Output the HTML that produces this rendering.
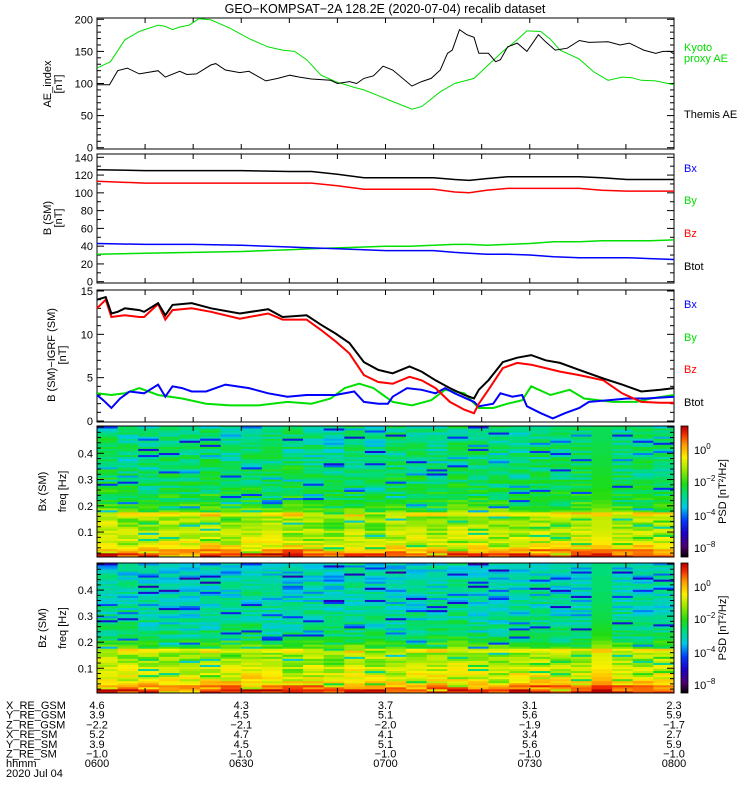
<!DOCTYPE html>
<html><head><meta charset="utf-8">
<style>
html,body{margin:0;padding:0;background:#fff;}
svg{display:block;font-family:"Liberation Sans",sans-serif;}
text{font-size:11px;fill:#000;}
</style></head>
<body>
<svg id="chart" width="750" height="800" viewBox="0 0 750 800" xmlns="http://www.w3.org/2000/svg">
<defs>
<linearGradient id="cbar" x1="0" y1="1" x2="0" y2="0">
<stop offset="0" stop-color="#000"/>
<stop offset="0.08" stop-color="#500070"/>
<stop offset="0.18" stop-color="#1e00c8"/>
<stop offset="0.28" stop-color="#003cff"/>
<stop offset="0.38" stop-color="#00c8e6"/>
<stop offset="0.48" stop-color="#00dc78"/>
<stop offset="0.56" stop-color="#1edc14"/>
<stop offset="0.68" stop-color="#aaeb00"/>
<stop offset="0.76" stop-color="#faf000"/>
<stop offset="0.86" stop-color="#ff9600"/>
<stop offset="0.94" stop-color="#f02800"/>
<stop offset="1" stop-color="#b40000"/>
</linearGradient>
</defs>
<text x="385" y="13" text-anchor="middle" style="font-size:12.5px">GEO−KOMPSAT−2A 128.2E (2020-07-04) recalib dataset</text>
<g id="layer"></g>
</svg>
<script>
// ---------- data ----------
const aeTimes = [0,2.6,4.3,6.3,8.8,12.7,14.2,17.2,18.7,20.7,23.7,24.7,26.7,29.7,31.6,35.1,37.6,40.1,42.1,44.6,48.6,50,52.5,54,55.5,57.5,59.5,61.5,65.5,67.5,69.5,71.4,72.9,73.9,75.4,76.9,78.4,79.4,81.4,82.9,83.9,85.4,87.4,89.4,91.8,93.3,95.3,97.8,100.3,102.3,106.3,108.8,110.7,113.7,116.2,117.7,119.2,120];
const themisAE = [98,98,120,124,115,120,110,119,114,115,129,131,121,117,119,104,108,113,110,107,105,100,103,100,108,112,127,121,96,103,108,121,147,152,184,176,172,147,147,134,137,157,163,150,176,165,152,155,167,164,165,160,163,152,147,150,150,146];
const kyotoTimes = [0,2.8,5.8,8.8,12.7,14.2,15.7,17.2,19.2,21.2,23.7,27.7,31.6,35.6,38.6,41.1,43.6,46.6,49.6,53.5,55.5,58.5,61.5,65.5,67.5,71.4,74.4,78.4,81.4,84.4,87.4,89.4,92.3,94.3,96.3,100.3,103.3,106.3,109.2,111.2,113.2,116.2,118.7,120];
const kyotoAE = [124,134,168,181,191,189,184,188,191,201,199,186,170,157,152,150,137,113,103,94,90,81,72,60,64,87,100,108,129,150,168,182,181,169,152,138,118,105,110,109,105,104,100,98];

const bTimes = [0,10,20,30,40,44.6,50,55.5,60,65,70,74.4,77.4,81,85.4,90,95,100.3,105,110.2,115,120];
const bTot = [126,125,125,125,124,124,121,117,117,117,117,115,114,116,118,118,118,118,117,115,115,115];
const bZ   = [113,111,111,111,111,111,108,104,104,104,104,101,100,103,105,105,105,105,103,102,102,102];
const bX   = [43,42,42,41,39,38,37,36,35,35,35,33,32,31,31,30,28,27,27,27,26,25];
const bY   = [31,32,33,34,36,37,38,39,40,40,41,42,42,41,42,43,45,45,46,46,46,47];

const dTimes = [0,1.8,3,4.3,5.8,8.8,9.8,12.7,14.2,15.7,19.7,23.7,29.7,35.6,38.6,43.6,46.6,49.6,52.5,55.5,58.5,61.5,65,67.5,70.4,73.4,76.4,78.4,79.4,81.4,84.4,87.4,90.3,93.3,96.3,100.3,105.3,109.2,113.2,117.2,120];
const dTot = [14.0,14.3,12.4,12.6,13.0,12.8,12.6,13.6,12.2,13.4,13.6,13.0,12.4,12.9,12.0,12.2,11.1,10.1,9.0,6.8,5.9,5.5,6.3,5.7,4.7,3.8,3.0,2.6,3.6,4.7,6.8,7.3,7.6,7.0,6.7,5.9,4.9,4.2,3.4,3.6,3.8];
const dZ   = [13.0,14.0,12.0,12.1,12.2,12.0,12.0,13.5,11.7,12.8,13.0,12.6,11.8,12.4,11.7,11.7,10.5,9.2,7.8,5.3,4.5,4.3,5.1,4.7,3.8,2.2,1.3,0.9,2.0,3.6,6.1,6.7,6.5,6.1,5.7,5.3,4.7,3.2,2.2,2.1,2.1];
const dXTimes = [0,1.3,3,4.8,6.8,9.8,12.7,14.2,15.7,17.7,19.7,22.7,26.7,31.6,35.6,39.6,43.6,47.6,49.6,53.5,55.5,58.5,60.5,61.5,64.5,67.5,70.4,72.4,74.4,78.4,79.4,82.4,83.9,86.4,88.4,89.4,92.3,94.8,97.3,100.3,102.3,106.3,110.2,114.2,120];
const dX   = [3.0,2.4,1.5,2.6,3.4,3.2,4.2,2.8,4.0,3.8,3.4,3.4,4.2,3.8,3.2,2.8,3.0,3.0,3.0,3.4,2.2,2.0,2.0,2.8,3.8,3.6,3.2,3.8,3.2,2.2,1.7,2.0,3.2,2.8,3.0,1.7,0.9,0.3,0.9,1.5,2.2,2.4,2.6,2.6,2.8];
const dYTimes = [0,3,5.8,8.8,12.7,17.7,22.7,27.7,33.6,39.6,44.6,48.6,51.5,54.5,57.5,61.5,65.5,69.5,72.4,76.4,79.4,82.4,85.4,88.4,90.3,94.3,98.3,101.3,107.3,112.2,115.2,120];
const dY   = [3.2,3.0,3.2,3.8,3.0,2.6,2.0,1.8,1.8,2.2,2.0,2.6,3.8,4.3,3.8,2.2,1.8,2.4,3.6,3.2,1.5,1.5,2.0,2.4,4.0,3.0,3.6,2.6,2.2,2.2,2.6,3.0];

// spectrogram profiles (bottom -> top, 32 freq groups), column offsets (28 columns), texture
const bxProfile = [0.92,0.84,0.76,0.72,0.70,0.68,0.67,0.66,0.66,0.65,0.75,0.60,0.56,0.54,0.52,0.52,0.51,0.50,0.50,0.50,0.49,0.49,0.48,0.48,0.48,0.47,0.47,0.47,0.46,0.46,0.46,0.46];
const bzProfile = [0.93,0.86,0.78,0.74,0.72,0.70,0.68,0.67,0.66,0.65,0.73,0.58,0.54,0.50,0.48,0.47,0.46,0.45,0.44,0.44,0.43,0.43,0.42,0.42,0.42,0.41,0.41,0.41,0.41,0.40,0.40,0.40];
const bxCols = [0.02,0,-0.01,0.01,0,0.02,-0.01,0,0.01,0.02,-0.01,-0.02,0,-0.02,0.01,0,-0.01,0.02,0.01,0,-0.01,0.01,0,0.02,-0.01,0,0.01,0];
const bzCols = [0.01,0.02,0,-0.01,-0.02,0,0.01,0.02,0,-0.01,0.01,0,0.02,0.01,-0.01,0,0.02,0.03,0,-0.01,0.01,0.02,0,-0.01,0.02,0.01,0,0.01];
const texture = [0.03,-0.05,0.06,-0.02,0.0,-0.22,0.04,-0.07,0.02,0.05,-0.03,0.07,-0.06,0.01,-0.1,0.04,-0.02,0.06,-0.04,0.0,0.03,-0.25,0.05,-0.01,0.02,-0.06,0.07,-0.03,0.04,-0.08,0.01,0.06,-0.05,0.02,-0.15,0.03,0.0,-0.04,0.05,-0.02,0.06];

const tickTimes = ["0600","0630","0700","0730","0800"];
const xGSM = ["4.6","4.3","3.7","3.1","2.3"];
const yGSM = ["3.9","4.5","5.1","5.6","5.9"];
const zGSM = ["−2.2","−2.1","−2.0","−1.9","−1.7"];
const xSM  = ["5.2","4.7","4.1","3.4","2.7"];
const ySM  = ["3.9","4.5","5.1","5.6","5.9"];
const zSM  = ["−1.0","−1.0","−1.0","−1.0","−1.0"];

// ---------- helpers ----------
const NS = "http://www.w3.org/2000/svg";
const layer = document.getElementById('layer');
const X0 = 97, X1 = 674;
function xs(t){ return X0 + (X1 - X0) * t / 120; }
function mk(tag, attrs, parent){
  const e = document.createElementNS(NS, tag);
  for (const k in attrs) e.setAttribute(k, attrs[k]);
  (parent || layer).appendChild(e);
  return e;
}
function txt(x, y, s, opts, parent){
  const e = mk('text', Object.assign({x:x, y:y}, opts || {}), parent);
  e.textContent = s;
  return e;
}
function cmap(t){
  const st = [[0,0,0,0],[0.08,80,0,110],[0.18,30,0,200],[0.28,0,60,255],[0.38,0,200,230],[0.48,0,220,120],[0.56,30,220,20],[0.68,170,235,0],[0.76,250,240,0],[0.86,255,150,0],[0.94,240,40,0],[1,180,0,0]];
  t = Math.max(0, Math.min(1, t));
  for (let i = 1; i < st.length; i++){
    if (t <= st[i][0]){
      const a = st[i-1], b = st[i], f = (t - a[0]) / (b[0] - a[0]);
      return 'rgb(' + [1,2,3].map(k => Math.round(a[k] + (b[k]-a[k])*f)).join(',') + ')';
    }
  }
  return 'rgb(180,0,0)';
}
function frame(top, bot, name){
  const g = mk('g', {});
  
  
  mk('rect', {x:X0, y:top, width:X1-X0, height:bot-top, fill:'none', stroke:'#000', 'stroke-width':1}, g);
  for (let m = 10; m < 120; m += 10){
    const x = xs(m);
    mk('line', {x1:x, x2:x, y1:top, y2:top+5, stroke:'#000'}, g);
    mk('line', {x1:x, x2:x, y1:bot, y2:bot-5, stroke:'#000'}, g);
  }
  return g;
}
function yaxis(g, ys, vmin, vmax, major, minor, fmt){
  for (let v = vmin; v <= vmax + 1e-9; v += minor){
    const y = ys(v);
    const isMaj = Math.abs(v/major - Math.round(v/major)) < 1e-6;
    const len = isMaj ? 7 : 4;
    mk('line', {x1:X0, x2:X0+len, y1:y, y2:y, stroke:'#000'}, g);
    mk('line', {x1:X1, x2:X1-len, y1:y, y2:y, stroke:'#000'}, g);
    if (isMaj && fmt){
      const t = txt(X0-4, y+4, fmt(v), {'text-anchor':'end'}, g);
      
      
    }
  }
}
function line(times, vals, ys, color, name, w){
  let d = '';
  times.forEach((t, i) => { d += (i ? 'L' : 'M') + xs(t).toFixed(1) + ',' + ys(vals[i]).toFixed(1); });
  const p = mk('path', {d:d, fill:'none', stroke:color, 'stroke-width':w || 1});
  
  
}
function ylabel(x, y, s, name){
  const t = txt(x, y, s, {'text-anchor':'middle', transform:'rotate(-90 ' + x + ' ' + y + ')'});
  
  
}
function rlabel(y, s, color, name){
  const t = txt(684, y, s, {fill:color, style:'fill:' + color});
  
  
}

// ---------- panel 1: AE ----------
{
  const top = 18, bot = 149;
  const ys = v => 147.7 - (147.7 - 19.3) * v / 200;
  const g = frame(top, bot, 'ae-panel');
  yaxis(g, ys, 0, 200, 50, 10, v => String(v));
  line(kyotoTimes, kyotoAE, ys, '#00e000', 'kyoto-ae-line');
  line(aeTimes, themisAE, ys, '#000', 'themis-ae-line');
  ylabel(51, 84, 'AE_index', 'ae-y-axis-title');
  ylabel(62, 84, '[nT]', 'ae-y-axis-unit');
  rlabel(51, 'Kyoto', '#00e000', 'legend-kyoto');
  rlabel(62, 'proxy AE', '#00e000', 'legend-proxy-ae');
  rlabel(118, 'Themis AE', '#000', 'legend-themis-ae');
}
// ---------- panel 2: B SM ----------
{
  const top = 154, bot = 283;
  const ys = v => 281.7 - (281.7 - 157.3) * v / 140;
  const g = frame(top, bot, 'b-sm-panel');
  yaxis(g, ys, 0, 140, 20, 10, v => String(v));
  line(bTimes, bY, ys, '#00e000', 'b-sm-by-line', 1.5);
  line(bTimes, bX, ys, '#0000ff', 'b-sm-bx-line', 1.5);
  line(bTimes, bZ, ys, '#ff0000', 'b-sm-bz-line', 1.5);
  line(bTimes, bTot, ys, '#000', 'b-sm-btot-line', 1.5);
  ylabel(51, 218, 'B (SM)', 'b-sm-y-axis-title');
  ylabel(62, 218, '[nT]', 'b-sm-y-axis-unit');
  rlabel(172, 'Bx', '#0000ff', 'legend-bx');
  rlabel(204, 'By', '#00e000', 'legend-by');
  rlabel(237, 'Bz', '#ff0000', 'legend-bz');
  rlabel(270, 'Btot', '#000', 'legend-btot');
}
// ---------- panel 3: B - IGRF ----------
{
  const top = 290, bot = 422;
  const ys = v => 421 - (421 - 291) * v / 15;
  const g = frame(top, bot, 'b-igrf-panel');
  yaxis(g, ys, 0, 15, 5, 1, v => String(v));
  line(dYTimes, dY, ys, '#00e000', 'b-igrf-by-line', 2);
  line(dXTimes, dX, ys, '#0000ff', 'b-igrf-bx-line', 2);
  line(dTimes, dZ, ys, '#ff0000', 'b-igrf-bz-line', 2);
  line(dTimes, dTot, ys, '#000', 'b-igrf-btot-line', 2);
  ylabel(55, 355, 'B (SM)−IGRF (SM)', 'b-igrf-y-axis-title');
  ylabel(66, 355, '[nT]', 'b-igrf-y-axis-unit');
  rlabel(308, 'Bx', '#0000ff', 'legend-bx-2');
  rlabel(341, 'By', '#00e000', 'legend-by-2');
  rlabel(373, 'Bz', '#ff0000', 'legend-bz-2');
  rlabel(406, 'Btot', '#000', 'legend-btot-2');
}
// ---------- spectrograms ----------
function spectro(top, bot, profile, cols, name, comp){
  const g = mk('g', {});
  
  
  const nRows = 64, nCols = cols.length;
  const fMin = 0.005, fMax = 0.504;
  const fy = f => bot - (bot - top) * (f - fMin) / (fMax - fMin);
  const cw = (X1 - X0) / nCols;
  for (let c = 0; c < nCols; c++){
    for (let r = 0; r < nRows; r++){
      const f0 = fMin + (fMax - fMin) * r / nRows, f1 = fMin + (fMax - fMin) * (r + 1) / nRows;
      const v = profile[Math.floor(r / 2)] + cols[c] + texture[(r * 17 + c * 29 + r * c) % texture.length];
      const cell = mk('rect', {x:(X0 + c*cw).toFixed(2), y:fy(f1).toFixed(2), width:(cw+0.4).toFixed(2), height:(fy(f0)-fy(f1)+0.4).toFixed(2), fill:cmap(v)}, g);
      
      
    }
  }
  const fr = frame(top, bot, name);
  const ysF = f => fy(f);
  yaxis(fr, ysF, 0.02, 0.5, 0.1, 0.02, null);
  [0.1, 0.2, 0.3, 0.4].forEach(f => {
    const t = txt(X0-4, ysF(f)+4, f.toFixed(1), {'text-anchor':'end'});
    
    
  });
  const mid = (top + bot) / 2;
  ylabel(46, mid, comp + ' (SM)', name + '-component-label');
  ylabel(66, mid, 'freq [Hz]', name + '-freq-label');
  const cb = mk('rect', {x:681, y:top, width:7, height:bot-top, fill:'url(#cbar)', stroke:'#000', 'stroke-width':0.8});
  
  
  const labs = [['10','0',top+24],['10','−2',top+56],['10','−4',top+90],['10','−8',top+122]];
  labs.forEach(l => {
    const t = txt(694, l[2]+4, l[0]);
    const s = mk('tspan', {dy:-5, style:'font-size:8px'}, t);
    s.textContent = l[1];
    
    
  });
  ylabel(726, mid, 'PSD [nT²/Hz]', name + '-colorbar-title');
}
spectro(426, 557, bxProfile, bxCols, 'bx-spectrogram', 'Bx');
spectro(563, 693, bzProfile, bzCols, 'bz-spectrogram', 'Bz');

// ---------- ephemeris table ----------
{
  const rows = [['X_RE_GSM', xGSM],['Y_RE_GSM', yGSM],['Z_RE_GSM', zGSM],['X_RE_SM', xSM],['Y_RE_SM', ySM],['Z_RE_SM', zSM],['hhmm', tickTimes]];
  rows.forEach((r, i) => {
    const y = 709 + i * 9.7;
    const lab = txt(6, y, r[0]);
    
    
    r[1].forEach((v, k) => {
      const t = txt(xs(k * 30), y, v, {'text-anchor':'middle'});
      
      
    });
  });
  const d = txt(6, 777, '2020 Jul 04');
  
  
}
</script>
</body></html>
